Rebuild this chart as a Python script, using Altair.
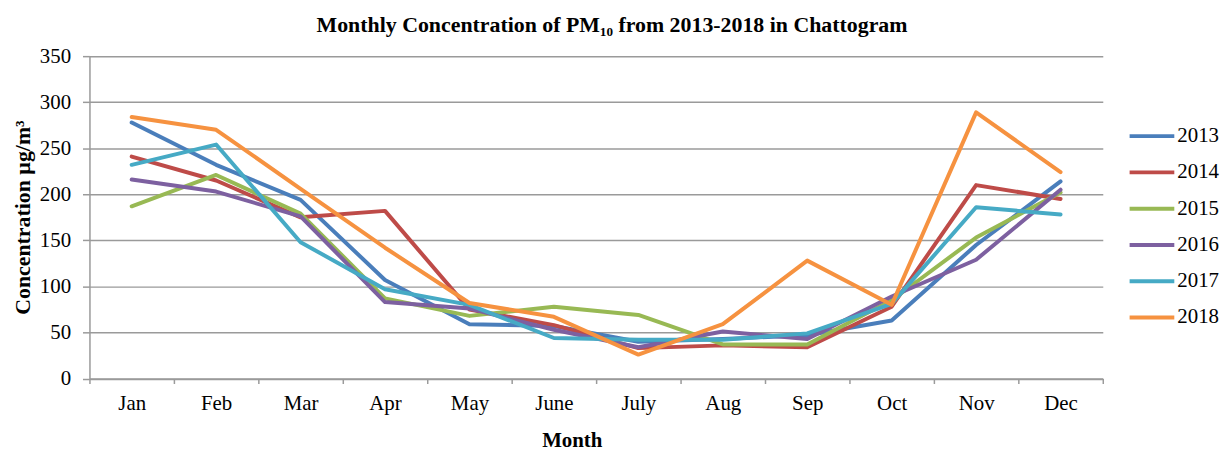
import altair as alt
import pandas as pd

months = ["Jan", "Feb", "Mar", "Apr", "May", "June", "July", "Aug", "Sep", "Oct", "Nov", "Dec"]
years = ["2013", "2014", "2015", "2016", "2017", "2018"]

v2013 = [278, 232, 194, 107, 59, 57, 40, 43, 47, 63, 145, 214]
v2014 = [241, 215, 175, 182, 75, 58, 33, 36, 34, 78, 210, 195]
v2015 = [187, 221, 179, 87, 68, 78, 69, 37, 37, 85, 153, 202]
v2016 = [216, 203, 176, 83, 76, 53, 34, 51, 43, 89, 129, 205]
v2017 = [232, 254, 148, 97, 80, 44, 42, 42, 49, 81, 186, 178]
v2018 = [284, 270, 206, 142, 82, 67, 26, 59, 128, 80, 289, 224]

colors = ["#4A7EBB", "#BE4B48", "#98B954", "#7D60A0", "#46AAC5", "#F69240"]

series = [v2013, v2014, v2015, v2016, v2017, v2018]
rows = []
for yr, vals in zip(years, series):
    for m, v in zip(months, vals):
        rows.append({"Month": m, "Year": yr, "Value": v})
df = pd.DataFrame(rows)

FONT = "Liberation Serif"
GRAY = "#9a9a9a"

chart = alt.Chart(df).mark_line(strokeWidth=4, strokeJoin="round", strokeCap="round").encode(
    x=alt.X(
        "Month:N",
        sort=months,
        bandPosition=0.5,
        scale=alt.Scale(type="band", paddingInner=0, paddingOuter=0),
        axis=alt.Axis(
            title="Month",
            labelAngle=0,
            tickBand="extent",
            grid=False,
            tickSize=5,
            labelPadding=9,
            titleX=485.5,
            titleY=68,
            titleBaseline="alphabetic",
            titleAlign="center",
        ),
    ),
    y=alt.Y(
        "Value:Q",
        scale=alt.Scale(domain=[0, 350], nice=False),
        axis=alt.Axis(
            values=[0, 50, 100, 150, 200, 250, 300, 350],
            title="Concentration µg/m³",
            tickSize=7,
            labelPadding=12,
            grid=True,
            titleX=-60,
            titleY=162,
            titleAngle=-90,
            titleBaseline="alphabetic",
            titleAlign="center",
            titleFontSize=22,
        ),
    ),
    color=alt.Color(
        "Year:N",
        scale=alt.Scale(domain=years, range=colors),
        legend=alt.Legend(
            title=None,
            orient="none",
            legendX=1045,
            legendY=56,
            symbolType="stroke",
            symbolSize=2025,
            symbolStrokeWidth=4,
            labelFont=FONT,
            labelFontSize=21,
            labelColor="black",
            labelOffset=1,
            rowPadding=1.5,
            padding=0,
        ),
    ),
).properties(
    width=1020,
    height=324.5,
    title=alt.TitleParams(
        text="Monthly Concentration of PM₁₀  from 2013-2018 in Chattogram",
        font=FONT,
        fontSize=22,
        fontWeight="bold",
        color="black",
        anchor="middle",
        dx=16,
        dy=28,
        offset=19,
        baseline="alphabetic",
    ),
    autosize=alt.AutoSizeParams(type="none"),
    padding={"left": 82, "top": 47, "right": 119, "bottom": 74},
).configure_view(
    stroke=None
).configure_axis(
    labelFont=FONT,
    labelFontSize=21,
    labelColor="black",
    titleFont=FONT,
    titleFontSize=21,
    titleFontWeight="bold",
    titleColor="black",
    domainColor=GRAY,
    domainWidth=1.5,
    tickColor=GRAY,
    tickWidth=1.5,
    gridColor=GRAY,
    gridWidth=1.5,
)

chart.save("out.html", embed_options={"renderer": "svg", "actions": False})
